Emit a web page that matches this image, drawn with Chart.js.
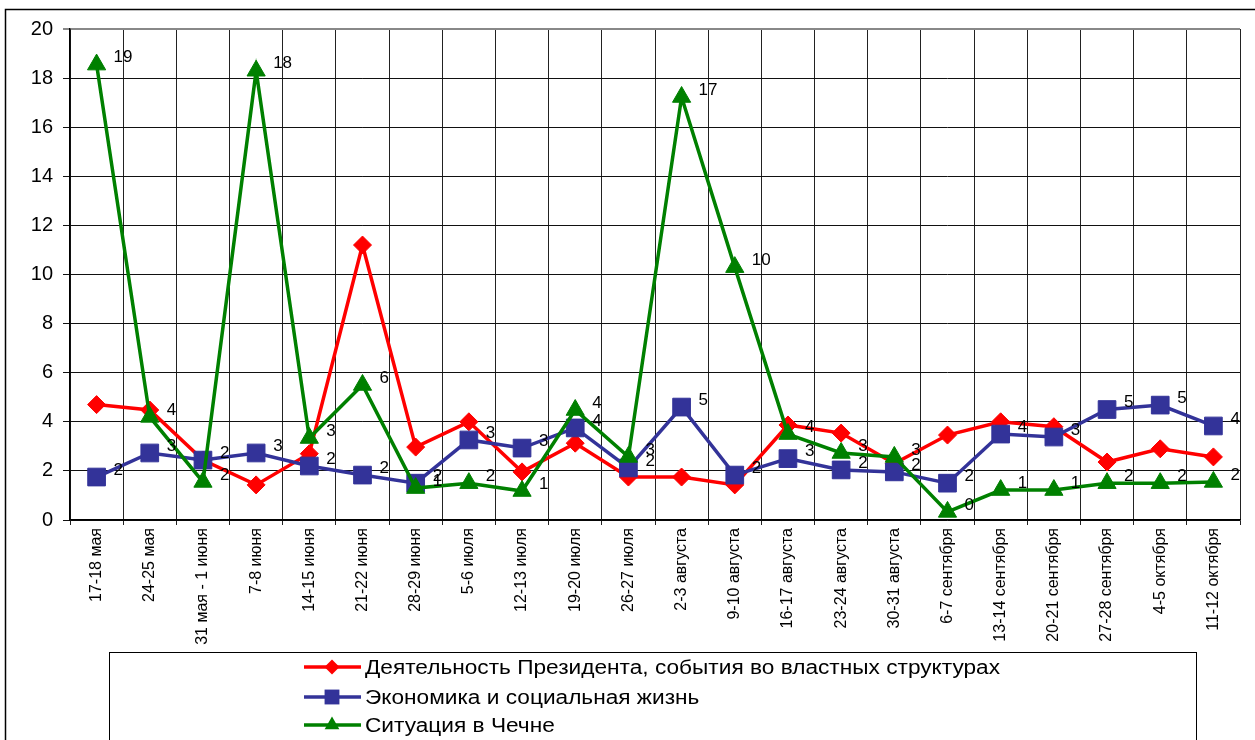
<!DOCTYPE html>
<html><head><meta charset="utf-8">
<script src="https://cdn.jsdelivr.net/npm/chart.js@4/dist/chart.umd.min.js"></script>
<style>html,body{margin:0;padding:0;background:#fff;}#wrap{width:1255px;height:740px;}</style>
</head><body><div id="wrap"><canvas id="c" width="1255" height="740"></canvas></div>
<script>
const categories = ["17-18 мая","24-25 мая","31 мая - 1 июня","7-8 июня","14-15 июня","21-22 июня","28-29 июня","5-6 июля","12-13 июля","19-20 июля","26-27 июля","2-3 августа","9-10 августа","16-17 августа","23-24 августа","30-31 августа","6-7 сентября","13-14 сентября","20-21 сентября","27-28 сентября","4-5 октября","11-12 октября"];
const presidentValues = [4.7,4.48,2.44,1.43,2.7,11.2,2.97,4.0,1.96,3.13,1.75,1.75,1.43,3.87,3.54,2.3,3.46,4.0,3.8,2.36,2.9,2.57];
const economyValues   = [1.75,2.73,2.44,2.73,2.2,1.83,1.5,3.26,2.93,3.75,2.12,4.6,1.83,2.5,2.04,1.96,1.5,3.5,3.38,4.5,4.68,3.83];
const chechnyaValues  = [18.55,4.2,1.55,18.3,3.34,5.5,1.3,1.5,1.18,4.48,2.57,17.23,10.3,3.5,2.73,2.57,0.33,1.22,1.22,1.5,1.5,1.55];
const seriesNames = ["Деятельность Президента, события во властных структурах","Экономика и социальная жизнь","Ситуация в Чечне"];
const seriesColors = ["#FF0000","#333399","#008000"];
const seriesMarkers = ["rectRot","rect","triangle"];
const labelledSeries = [1,2];
const yMin = 0, yMax = 20, yStep = 2;

function drawMarker(ctx, style, x, y, r, color){
  ctx.save(); ctx.fillStyle = color; ctx.beginPath();
  if(style==='rectRot'){ ctx.moveTo(x,y-r); ctx.lineTo(x+r,y); ctx.lineTo(x,y+r); ctx.lineTo(x-r,y); }
  else if(style==='rect'){ const h=r*Math.SQRT1_2; ctx.rect(x-h,y-h,2*h,2*h); }
  else { const s=Math.sin(2*Math.PI/3), c=Math.cos(2*Math.PI/3);
    ctx.moveTo(x,y-r); ctx.lineTo(x+s*r,y-c*r); ctx.lineTo(x-s*r,y-c*r); }
  ctx.closePath(); ctx.fill(); ctx.restore();
}

const framePlugin = {
  id:'frame',
  beforeDraw(chart){ const ctx=chart.ctx; ctx.save(); ctx.fillStyle='#fff'; ctx.fillRect(0,0,chart.width,chart.height); ctx.restore(); },
  afterDraw(chart){
    const ctx=chart.ctx; ctx.save();
    ctx.strokeStyle='#000'; ctx.lineWidth=1.5;
    ctx.strokeRect(5.5,9.5,1300,900);
    // legend box
    ctx.lineWidth=1; ctx.strokeRect(109.5,652.5,1087,200);
    ctx.font='20px "Liberation Sans", Arial, sans-serif';
    const w0 = ctx.measureText(seriesNames[0]).width;
    const sx = 635 / w0;
    const rowsY=[667,697,725];
    const markerR=[7.5,10.5,8.5];
    seriesNames.forEach((name,i)=>{
      const y=rowsY[i];
      ctx.strokeStyle=seriesColors[i]; ctx.lineWidth=3.5; ctx.beginPath(); ctx.moveTo(304,y); ctx.lineTo(361,y); ctx.stroke();
      drawMarker(ctx, seriesMarkers[i], 332, y, markerR[i], seriesColors[i]);
      ctx.save(); ctx.translate(365,y); ctx.scale(sx,1);
      ctx.fillStyle='#000'; ctx.textAlign='left'; ctx.textBaseline='middle'; ctx.fillText(name,0,1);
      ctx.restore();
    });
    ctx.restore();
  },
  afterDatasetsDraw(chart){
    const ctx=chart.ctx; ctx.save();
    ctx.font='17px "Liberation Sans", Arial, sans-serif'; ctx.fillStyle='#000';
    ctx.textAlign='left'; ctx.textBaseline='middle';
    labelledSeries.forEach(i=>{
      const meta=chart.getDatasetMeta(i); const data=chart.data.datasets[i].data;
      meta.data.forEach((pt,j)=>{ ctx.fillText(String(Math.round(data[j])), pt.x+17, pt.y-7); });
    });
    ctx.restore();
  }
};

const allValues=[presidentValues,economyValues,chechnyaValues];
const radii=[9,12.5,10.5];
const datasets = allValues.map((vals,i)=>({
  label: seriesNames[i], data: vals,
  borderColor: seriesColors[i], backgroundColor: seriesColors[i],
  borderWidth: 3.5, tension: 0,
  pointStyle: seriesMarkers[i], pointRadius: radii[i], pointHoverRadius: radii[i],
  pointBorderWidth: 1, pointBorderColor: seriesColors[i], pointBackgroundColor: seriesColors[i],
  order: 3-i
}));

new Chart(document.getElementById('c'), {
  type:'line',
  data:{ labels: categories, datasets },
  plugins:[framePlugin],
  options:{
    responsive:false, animation:false, devicePixelRatio:1,
    layout:{ padding:{ left:0, top:29, right:15, bottom:90 } },
    plugins:{ legend:{display:false}, tooltip:{enabled:false} },
    scales:{
      x:{
        offset:true,
        grid:{ offset:true, color:(c)=> c.index===categories.length ? '#888' : '#222', lineWidth:(c)=> c.index===categories.length ? 2 : 1, drawTicks:true, tickLength:5 },
        border:{ color:'#000', width:1.5 },
        ticks:{ font:{ family:'"Liberation Sans", Arial, sans-serif', size:16 }, color:'#000', maxRotation:90, minRotation:90, autoSkip:false, padding:3 },
        afterFit:(s)=>{ s.height=130; }
      },
      y:{
        min:yMin, max:yMax,
        grid:{ color:(c)=> (c.tick && c.tick.value===yMax) ? '#888' : '#111', lineWidth:(c)=> (c.tick && c.tick.value===yMax) ? 2 : 1, tickLength:7 },
        border:{ color:'#000', width:1.5 },
        ticks:{ stepSize:yStep, font:{ family:'"Liberation Sans", Arial, sans-serif', size:20 }, color:'#000', padding:10 },
        afterFit:(s)=>{ s.width=70; }
      }
    }
  }
});
</script></body></html>
